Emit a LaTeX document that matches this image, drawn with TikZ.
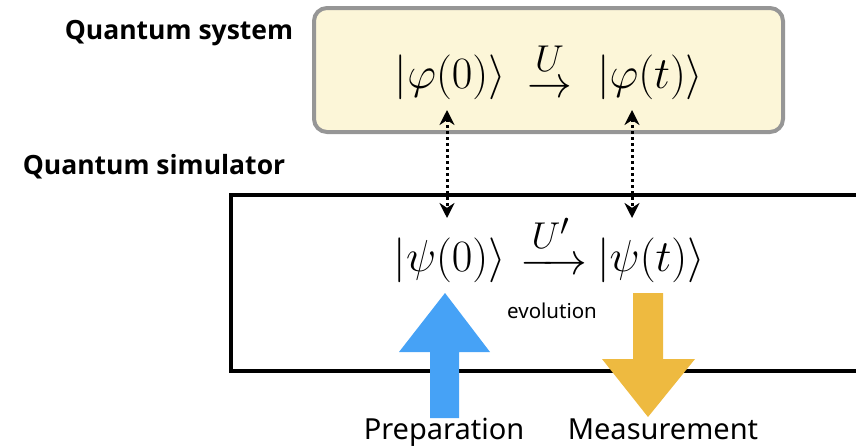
\documentclass[tikz,border=0pt]{standalone}
\usepackage{amsmath}
\usepackage{graphicx}
\usepackage{fontspec}
\newfontfamily\labfont{Noto Sans}
\newfontfamily\headfont{Open Sans}
\usetikzlibrary{arrows.meta,positioning}

\definecolor{sysfill}{RGB}{252,246,216}
\definecolor{sysline}{RGB}{150,150,150}
\definecolor{prepblue}{RGB}{70,162,246}
\definecolor{measgold}{RGB}{238,186,64}

% large math: typeset at \Huge and scaled to about 45pt
\newcommand{\bigmath}[1]{\scalebox{1.8}{\Huge$#1$}}

\tikzset{
  heading/.style={font=\headfont\bfseries\fontsize{26.5}{30}\selectfont, inner sep=0pt},
  caption/.style={font=\labfont\fontsize{29}{34}\selectfont, inner sep=0pt},
  small/.style={font=\labfont\fontsize{20.5}{24}\selectfont, inner sep=0pt},
  ket/.style={inner sep=0pt},
  sysbox/.style={draw=sysline, fill=sysfill, line width=4pt, rounded corners=13pt},
  simbox/.style={draw=black, line width=4pt},
  link/.style={line width=3pt, dash pattern=on 3pt off 3pt,
    {Stealth[length=15pt,width=15pt]}-{Stealth[length=15pt,width=15pt]}},
}

\begin{document}
\begin{tikzpicture}[x=1pt,y=-1pt]
\useasboundingbox (0,0) rectangle (856,447);

% boxes
\draw[sysbox] (314,8) rectangle (783,132);
\draw[simbox] (231,195) rectangle (880,371);

% headings
\node[heading] (hsys) at (179,33) {Quantum system};
\node[heading] (hsim) at (154,167) {Quantum simulator};

% states of the system
\node[ket, anchor=east] (p0) at (506,77.5) {\bigmath{|\varphi(0)\rangle}};
\node[ket, anchor=base west] (pu) at (527,97) {\bigmath{\stackrel{U}{\rightarrow}}};
\node[ket, anchor=west] (pt) at (597,77.5) {\bigmath{|\varphi(t)\rangle}};

% states of the simulator
\node[ket, anchor=east] (q0) at (506,260) {\bigmath{|\psi(0)\rangle}};
\node[ket, anchor=base west] (qu) at (520,274) {\bigmath{\xrightarrow{U'}}};
\node[ket, anchor=west] (qt) at (597,260) {\bigmath{|\psi(t)\rangle}};

\node[small] (evo) at (552,311) {evolution};

% correspondence links
\coordinate (a1) at (447,110);
\coordinate (b1) at (447,218);
\coordinate (a2) at (632,110);
\coordinate (b2) at (632,218);
\draw[link] (a1) -- (b1);
\draw[link] (a2) -- (b2);

% preparation and measurement arrows
\fill[prepblue] (430,418) -- (430,352) -- (399,352) -- (445,293)
  -- (490,352) -- (459,352) -- (459,418) -- cycle;
\fill[measgold] (633,293) -- (633,359) -- (602,359) -- (648,417)
  -- (695,359) -- (663,359) -- (663,293) -- cycle;

\node[caption, anchor=base] (prep) at (444,439) {Preparation};
\node[caption, anchor=base] (meas) at (663,439) {Measurement};
\end{tikzpicture}
\end{document}
